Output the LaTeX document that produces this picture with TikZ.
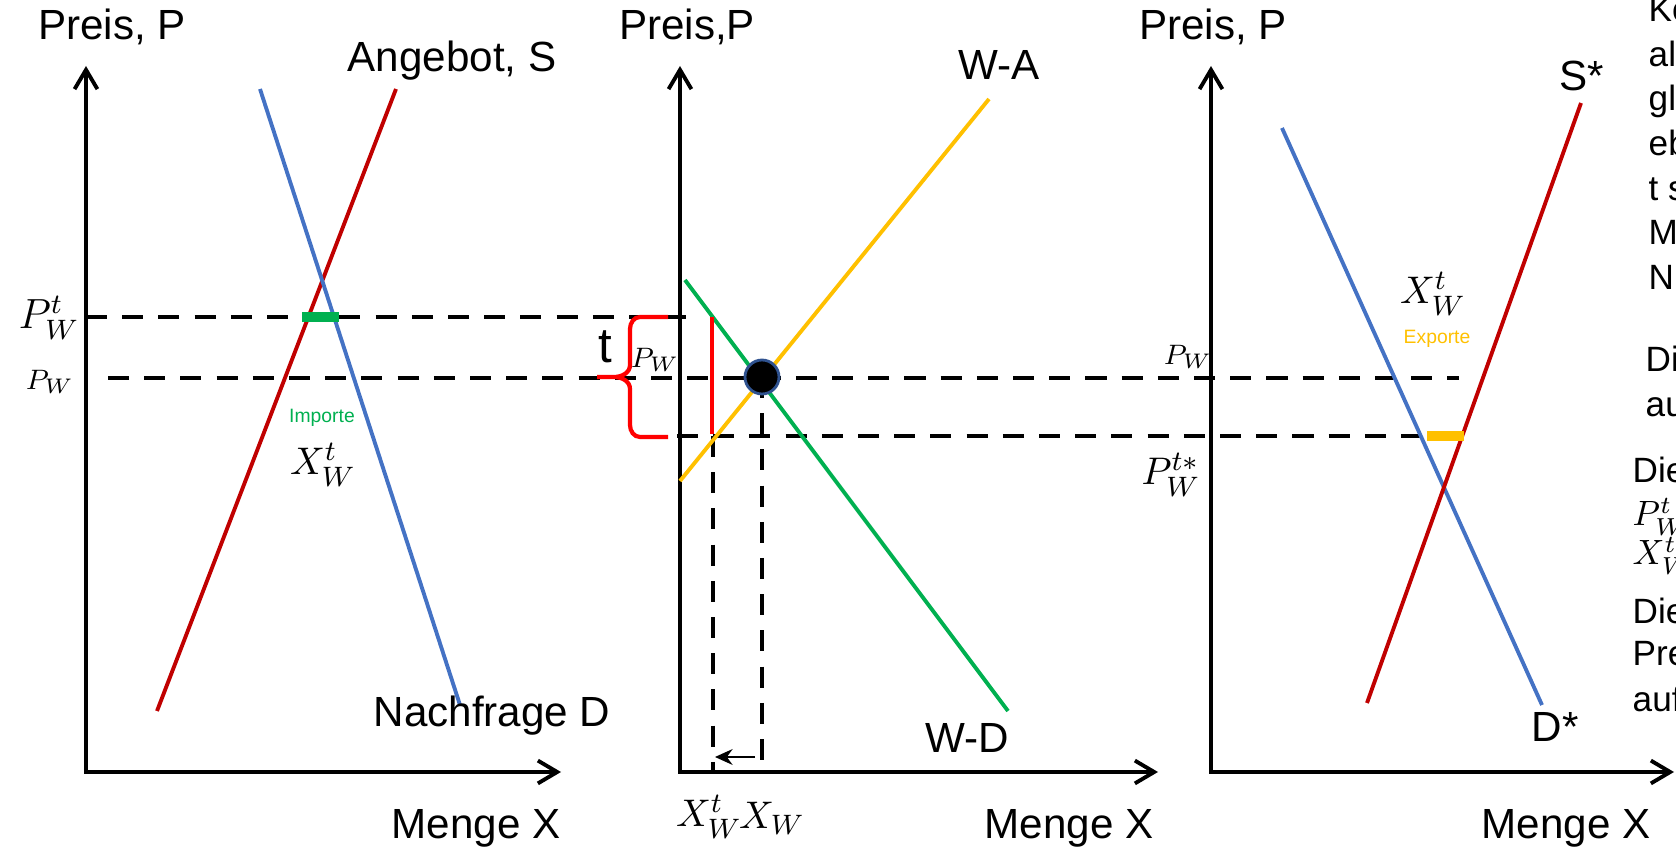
\documentclass[tikz,border=0pt]{standalone}
\usepackage{amsmath}
\usepackage{fontspec}
\setmainfont{Liberation Sans}
\usetikzlibrary{arrows.meta}
\definecolor{dunkelrot}{HTML}{C00000}
\definecolor{hellblau}{HTML}{4472C4}
\definecolor{gruen}{HTML}{00B050}
\definecolor{goldgelb}{HTML}{FFC000}
\definecolor{randblau}{HTML}{2F528F}

\begin{document}
\begin{tikzpicture}[>={Straight Barb[length=5.5pt,width=6.5pt]},
	achse/.style={line width=1.1pt, <->},
	kurve/.style={line width=1.1pt},
	hilfslinie/.style={line width=1.2pt, dash pattern=on 6pt off 4.3pt},
	balken/.style={line width=2.9pt},
	titel/.style={font=\fontsize{12}{14}\selectfont, anchor=base},
	mathe/.style={font=\fontsize{11}{13}\selectfont},
	klein/.style={font=\fontsize{5.5}{6}\selectfont},
	rand/.style={font=\fontsize{10}{12}\selectfont, anchor=base west, inner sep=0pt}]
	\useasboundingbox (0,0) rectangle (16.76,8.51);
	
	% ========== links: Inland (Importe) ==========
	\draw[achse] (0.86,7.85) |- (5.61,0.79);
	\node[titel] (preis1) at (1.12,8.11) {Preis, P};
	\node[titel] (menge1) at (4.76,0.13) {Menge X};
	
	\draw[hilfslinie] (0.86,5.34) -- (6.98,5.34);
	\draw[hilfslinie] (1.08,4.73) -- (14.59,4.73);
	
	\draw[kurve, dunkelrot] (1.57,1.40) -- (3.96,7.62);
	\draw[kurve, hellblau] (2.60,7.62) -- (4.60,1.46);
	\draw[balken, gruen] (3.02,5.34) -- (3.39,5.34);
	
	\node[titel] (angebot) at (4.52,7.79) {Angebot, S};
	\node[titel] (nachfrage) at (4.92,1.25) {Nachfrage D};
	\node[font=\fontsize{12}{14}\selectfont] (pwt1) at (0.49,5.33) {$P_W^t$};
	\node[font=\fontsize{8}{10}\selectfont] (pw1) at (0.50,4.69) {$P_W$};
	\node[klein, text=gruen] (importe) at (3.22,4.33) {Importe};
	\node[mathe] (xwt1) at (3.23,3.86) {$X_W^t$};
	
	% ========== Mitte: Weltmarkt ==========
	\draw[achse] (6.80,7.85) |- (11.58,0.79);
	\node[titel] (preis2) at (6.87,8.11) {Preis,P};
	\node[titel] (menge2) at (10.69,0.13) {Menge X};
	
	\draw[hilfslinie] (6.77,4.15) -- (14.63,4.15);
	\draw[hilfslinie] (7.13,4.15) -- (7.13,0.79);
	\draw[hilfslinie] (7.62,4.74) -- (7.62,0.79);
	
	\draw[kurve, goldgelb] (6.80,3.70) -- (9.89,7.52);
	\draw[kurve, gruen] (6.85,5.71) -- (10.08,1.40);
	\draw[line width=1.2pt, red] (7.12,5.34) -- (7.12,4.17);
	\draw[line width=1.2pt, red] (6.68,5.34) -- (6.40,5.34) to[out=180,in=90] (6.30,5.22)
		-- (6.30,4.86) to[out=270,in=0] (6.14,4.74) -- (5.97,4.74) -- (6.14,4.74)
		to[out=0,in=90] (6.30,4.62) -- (6.30,4.26) to[out=270,in=180] (6.40,4.14) -- (6.68,4.14);
	\node[circle, fill=black, draw=randblau, line width=0.8pt, minimum size=0.34cm, inner sep=0pt] (gleichgewicht) at (7.62,4.74) {};
	\draw[-{Stealth[length=5pt,width=4.5pt]}, line width=0.6pt] (7.55,0.94) -- (7.15,0.94);
	
	\node[titel] (wa) at (9.99,7.71) {W-A};
	\node[titel] (wd) at (9.67,0.98) {W-D};
	\node[font=\fontsize{14}{16}\selectfont] (zoll) at (6.05,5.04) {t};
	\node[font=\fontsize{8}{10}\selectfont] (pw2) at (6.55,4.91) {$P_W$};
	\node[mathe, inner xsep=0pt] (xwt2) at (7.09,0.34) {$X_W^t$};
	\node[mathe, inner xsep=0pt] (xw) at (7.72,0.33) {$X_W$};
	
	% ========== rechts: Ausland (Exporte) ==========
	\draw[achse] (12.11,7.85) |- (16.74,0.79);
	\node[titel] (preis3) at (12.13,8.11) {Preis, P};
	\node[titel] (menge3) at (15.66,0.13) {Menge X};
	
	\draw[kurve, hellblau] (12.82,7.23) -- (15.42,1.46);
	\draw[kurve, dunkelrot] (13.67,1.48) -- (15.81,7.48);
	\draw[balken, goldgelb] (14.27,4.15) -- (14.64,4.15);
	
	\node[titel] (sstern) at (15.82,7.60) {S*};
	\node[titel] (dstern) at (15.55,1.09) {D*};
	\node[font=\fontsize{8}{10}\selectfont] (pw3) at (11.88,4.94) {$P_W$};
	\node[mathe] (pwtstern) at (11.71,3.76) {$P_W^{t*}$};
	\node[mathe] (xwt3) at (14.33,5.57) {$X_W^t$};
	\node[klein, text=goldgelb] (exporte) at (14.37,5.12) {Exporte};
	
	% Textrand (abgeschnitten)
	\node[rand] at (16.48,8.29) {Ko};
	\node[rand] at (16.48,7.84) {al};
	\node[rand] at (16.48,7.40) {gl};
	\node[rand] at (16.48,6.95) {eb};
	\node[rand] at (16.48,6.50) {t s};
	\node[rand] at (16.48,6.06) {M};
	\node[rand] at (16.48,5.61) {N};
	\node[rand] at (16.45,4.79) {Di};
	\node[rand] at (16.45,4.34) {au};
	\node[rand] at (16.32,3.68) {Die};
	\node[rand] at (16.32,3.25) {$P_W^t$};
	\node[rand] at (16.32,2.86) {$X_W^t$};
	\node[rand] at (16.32,2.27) {Die};
	\node[rand] at (16.32,1.85) {Pre};
	\node[rand] at (16.32,1.40) {auf};
\end{tikzpicture}
\end{document}
